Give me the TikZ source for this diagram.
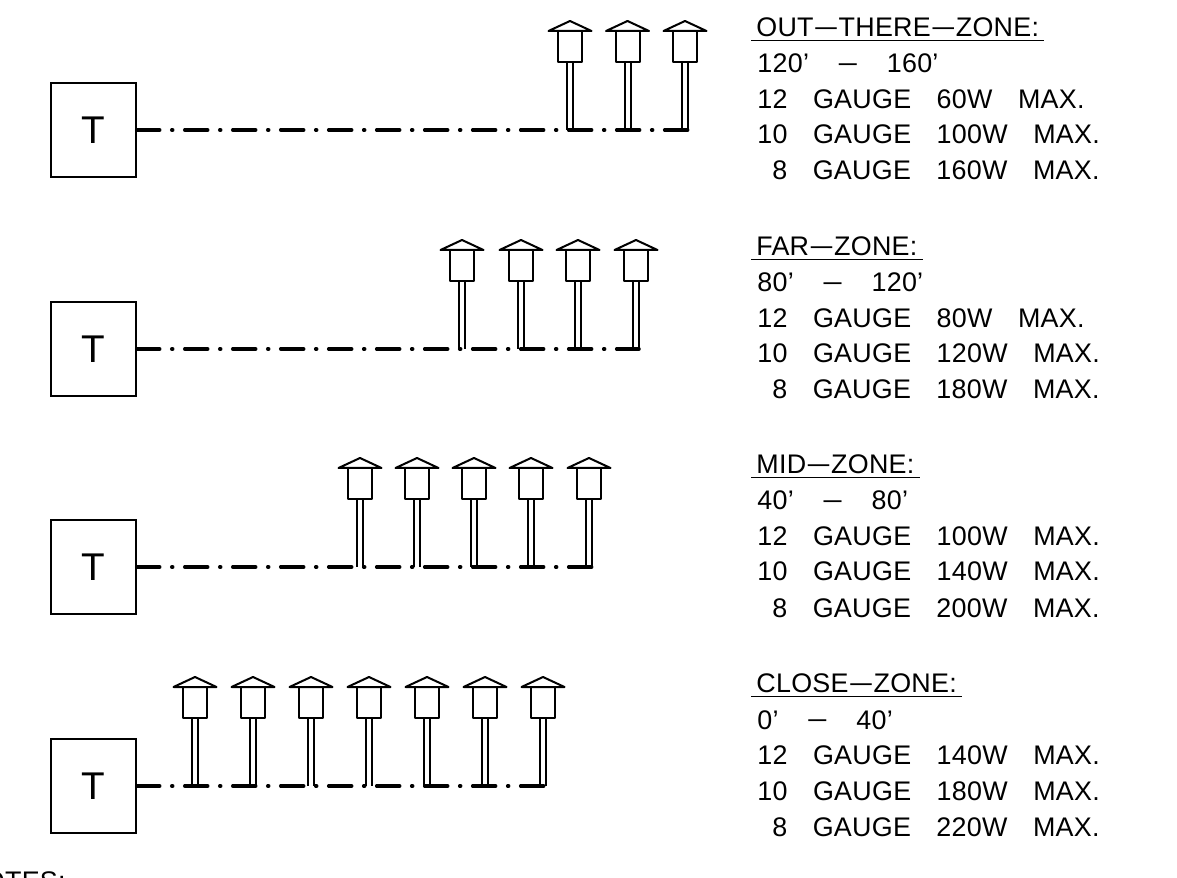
\documentclass[tikz,border=0pt]{standalone}
\usepackage{fontspec,graphicx}
\setmainfont[LetterSpace=1,WordSpace=3.3]{Liberation Sans}
\newcommand\zdash{\kern1pt\raisebox{.6pt}{\scalebox{.8}[1]{—}}\kern1pt}
\newcommand\rdash{\kern2.5pt\raisebox{.6pt}{\scalebox{.67}[1]{—}}\kern2.5pt}
\tikzset{
  tbox/.style={draw=black,line width=0.03cm,minimum width=1.7cm,minimum height=1.88cm,font=\fontsize{22}{24}\selectfont},
  wire/.style={draw=black,line width=0.07cm,line cap=round,dash pattern=on 0.46cm off 0.24cm on 0.02cm off 0.24cm},
  lampline/.style={draw=black,line width=0.04cm,line join=round},
  heading/.style={font=\fontsize{15.3}{17}\selectfont,anchor=base west,inner xsep=0.1cm,inner ysep=0.07cm},
  gauge/.style={font=\fontsize{15.3}{17}\selectfont,anchor=base west,inner sep=0pt},
  headrule/.style={draw=black,line width=0.03cm}
}
\begin{document}
\begin{tikzpicture}[x=0.02cm,y=-0.02cm]
\path[use as bounding box] (0,0) rectangle (1177,878);
% one row per zone
\foreach \n/\dy/\lamps/\wireend/\head/\range/\gaugea/\gaugeb/\gaugec in {
  1/0/{570,627.5,685}/688/{OUT\zdash THERE\zdash ZONE:}/{120' \rdash{} 160'}/{60W MAX.}/{100W MAX.}/{160W MAX.},
  2/219/{462,521,578,636}/639/{FAR\zdash ZONE:}/{80' \rdash{} 120'}/{80W MAX.}/{120W MAX.}/{180W MAX.},
  3/437/{360,417,474,531,589}/592/{MID\zdash ZONE:}/{40' \rdash{} 80'}/{100W MAX.}/{140W MAX.}/{200W MAX.},
  4/656/{195,253,311,369,427,485,543}/546/{CLOSE\zdash ZONE:}/{0' \rdash{} 40'}/{140W MAX.}/{180W MAX.}/{220W MAX.}}{
\begin{scope}[shift={(0,\dy)}]
\node[tbox] (t\n) at (93.5,130) {T};
\coordinate (end\n) at (\wireend,130);
\draw[wire] (t\n.east)--(end\n);
\foreach \x in \lamps {
  \draw[lampline] (\x-21.5,31)--(\x,21)--(\x+21.5,31)--cycle;
  \draw[lampline] (\x-12,31) rectangle (\x+12,62);
  \draw[lampline] (\x-3,62)--(\x-3,130);
  \draw[lampline] (\x+3,62)--(\x+3,130);
}
\node[heading] (h\n) at (751,36.5) {\head};
\draw[headrule] (h\n.south west)--(h\n.south east);
\node[gauge] (r\n) at (757,73) {\range};
\node[gauge] (a\n) at (757,108.5) {12 GAUGE \gaugea};
\node[gauge] (b\n) at (757,144) {10 GAUGE \gaugeb};
\node[gauge] (c\n) at (757,180) {\hphantom{1}8 GAUGE \gaugec};
\end{scope}
}
\node[gauge,anchor=base east] (notes) at (66,890) {NOTES:};
\end{tikzpicture}
\end{document}
